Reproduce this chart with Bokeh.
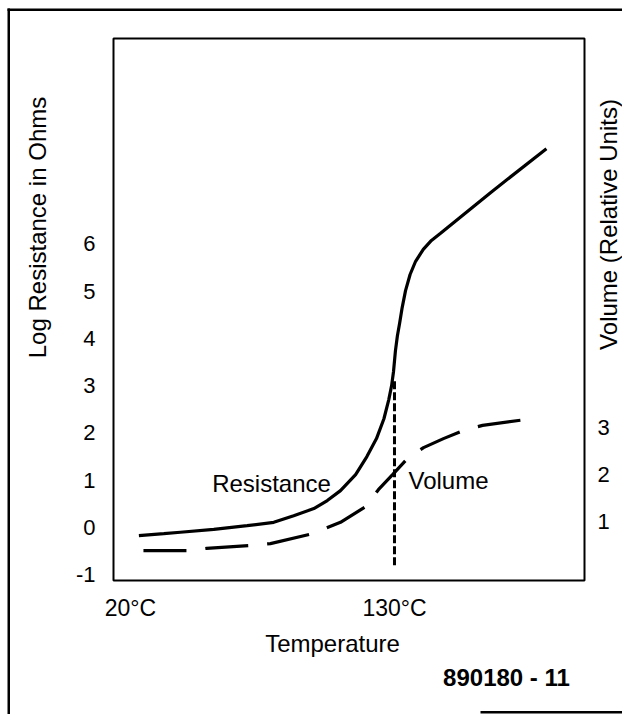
import math
from bokeh.plotting import figure
from bokeh.models import Range1d, LinearAxis, FixedTicker, Label, BoxAnnotation
from bokeh.embed import file_html
from bokeh.resources import INLINE

# ---- data ----
temp_res = [23.5, 33.9, 40.8, 54.7, 68.6, 79.7, 88.0, 96.4, 102.0, 107.5, 113.8,
            118.5, 122.5, 125.6, 127.6, 128.8, 129.6, 130.4, 131.2, 132.1, 133.2,
            134.6, 136.5, 138.8, 142.0, 145.4, 149.2, 170.0, 193.3]
log_res = [-0.17, -0.13, -0.10, -0.04, 0.04, 0.11, 0.25, 0.40, 0.57, 0.78, 1.12,
           1.50, 1.88, 2.30, 2.70, 3.00, 3.30, 3.74, 4.05, 4.31, 4.65,
           5.01, 5.35, 5.63, 5.88, 6.07, 6.22, 7.08, 8.01]

temp_vol = [25.4, 43.8, 51.7, 70.0, 78.3, 95.8, 107.5, 117.9, 123.3, 129.2,
            135.4, 142.1, 150.4, 158.75, 166.7, 184.2]
volume = [0.39, 0.39, 0.44, 0.50, 0.54, 0.75, 0.99, 1.32, 1.68, 2.00,
          2.34, 2.57, 2.76, 2.93, 3.04, 3.16]

transition_temp = [130, 130]
transition_log = [-0.8, 3.1]

x_ticks = [20, 130]
x_tick_labels = {20: "20°C", 130: "130°C"}
left_ticks = [-1, 0, 1, 2, 3, 4, 5, 6]
left_tick_labels = {-1: "-1"}
right_ticks = [1, 2, 3]

# axis extents of the drawn box (data units)
T_LEFT, T_RIGHT = 12.92, 209.17
L_BOT, L_TOP = -1.12, 10.34
VOL_OFFSET = 0.88

FONT = "Liberation Sans"

# ---- layout (pixels) ----
W, H = 622, 714
BOX_L, BOX_R, BOX_T, BOX_B = 113, 584, 38, 580
XS = (BOX_R - BOX_L) / (T_RIGHT - T_LEFT)
YS = (BOX_B - BOX_T) / (L_TOP - L_BOT)
x0 = T_LEFT - BOX_L / XS
x1 = T_RIGHT + (W - BOX_R) / XS
y0 = L_BOT - (H - BOX_B) / YS
y1 = L_TOP + BOX_T / YS


def px(xp):
    return x0 + xp / XS


def py(yp):
    return y1 - yp / YS


p = figure(width=W, height=H, output_backend="svg", toolbar_location=None,
           x_range=Range1d(x0, x1), y_range=Range1d(y0, y1),
           min_border=0, min_border_left=0, min_border_right=0,
           min_border_top=0, min_border_bottom=0)
p.extra_y_ranges = {"vol": Range1d(y0 + VOL_OFFSET, y1 + VOL_OFFSET)}

p.grid.visible = False
p.outline_line_color = None
p.background_fill_color = "white"
p.border_fill_color = "white"


def style_axis(ax, size, standoff):
    ax.axis_line_color = None
    ax.major_tick_line_color = None
    ax.minor_tick_line_color = None
    ax.major_tick_out = 0
    ax.major_tick_in = 0
    ax.major_label_standoff = standoff
    ax.major_label_text_font = FONT
    ax.major_label_text_font_size = size
    ax.major_label_text_color = "black"


xa = p.xaxis[0]
xa.ticker = FixedTicker(ticks=x_ticks)
xa.major_label_overrides = x_tick_labels
xa.fixed_location = L_BOT
style_axis(xa, "23px", 14)

ya = p.yaxis[0]
ya.ticker = FixedTicker(ticks=left_ticks)
ya.major_label_overrides = left_tick_labels
ya.fixed_location = T_LEFT
style_axis(ya, "22px", 18)

ra = LinearAxis(y_range_name="vol", ticker=FixedTicker(ticks=right_ticks))
ra.fixed_location = T_RIGHT
style_axis(ra, "22px", 13)
p.add_layout(ra, "right")

# plot box
p.add_layout(BoxAnnotation(left=T_LEFT, right=T_RIGHT, bottom=L_BOT, top=L_TOP,
                           fill_color=None, fill_alpha=0,
                           line_color="black", line_alpha=1, line_width=2))

# curves
p.line(temp_res, log_res, line_color="black", line_width=3.2)
p.line(temp_vol, volume, y_range_name="vol", line_color="black",
       line_width=3.2, line_dash="43 19")
p.line(transition_temp, transition_log, line_color="black", line_width=3,
       line_dash="8 3")

# text
def add_text(xp, yp, text, size="24px", style="normal", angle=0.0):
    p.add_layout(Label(x=px(xp), y=py(yp), text=text, text_font=FONT,
                       text_font_size=size, text_font_style=style, angle=angle,
                       text_align="center", text_baseline="middle",
                       text_color="black"))


add_text(271, 483, "Resistance")
add_text(448, 480, "Volume")
add_text(332, 643, "Temperature")
add_text(506, 677, "890180 - 11", style="bold")
add_text(37, 227, "Log Resistance in Ohms", angle=math.pi / 2)
add_text(608, 224, "Volume (Relative Units)", angle=math.pi / 2)

# outer border (left, top, partial bottom)
for l, r, t, b in [(7, 9.5, 8, H), (7, W, 8, 10.5), (480, W, 710.5, 713)]:
    p.add_layout(BoxAnnotation(left=px(l), right=px(r), top=py(t), bottom=py(b),
                               fill_color="black", fill_alpha=1,
                               line_color=None))

open("out.html", "w").write(file_html(p, INLINE))
